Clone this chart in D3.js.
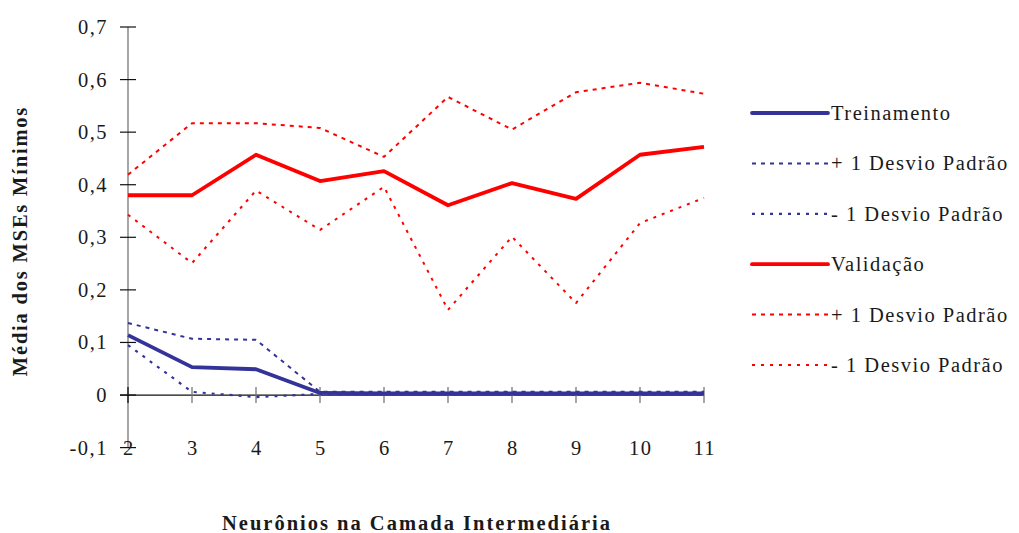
<!DOCTYPE html>
<html>
<head>
<meta charset="utf-8">
<script src="https://cdn.jsdelivr.net/npm/d3@7"></script>
<style>
  html, body { margin: 0; padding: 0; background: #fff; }
  svg { display: block; }
  text { font-family: "Liberation Serif", "DejaVu Serif", serif; fill: #1a1a1a; }
</style>
</head>
<body>
<svg id="chart" width="1019" height="533"></svg>
<script>
// Number of hidden-layer neurons
const neuronios = [2, 3, 4, 5, 6, 7, 8, 9, 10, 11];

// Mean of minimum MSEs per configuration
const treinamento      = [0.114, 0.053, 0.049, 0.004, 0.003, 0.003, 0.003, 0.003, 0.003, 0.003];
const treinamentoMais  = [0.137, 0.107, 0.105, 0.006, 0.006, 0.006, 0.006, 0.006, 0.006, 0.006];
const treinamentoMenos = [0.095, 0.006, -0.004, 0.002, 0.001, 0.001, 0.001, 0.001, 0.001, 0.001];
const validacao        = [0.380, 0.380, 0.457, 0.407, 0.426, 0.361, 0.403, 0.373, 0.457, 0.472];
const validacaoMais    = [0.419, 0.517, 0.517, 0.508, 0.453, 0.567, 0.505, 0.576, 0.594, 0.573];
const validacaoMenos   = [0.343, 0.251, 0.389, 0.314, 0.396, 0.162, 0.301, 0.175, 0.327, 0.375];

const yTicks = [-0.1, 0, 0.1, 0.2, 0.3, 0.4, 0.5, 0.6, 0.7];
const yTickLabels = ["-0,1", "0", "0,1", "0,2", "0,3", "0,4", "0,5", "0,6", "0,7"];
const legendLabels = ["Treinamento", "+ 1 Desvio Padrão", "- 1 Desvio Padrão",
                      "Validação", "+ 1 Desvio Padrão", "- 1 Desvio Padrão"];

const azul = "#333399", vermelho = "#ff0000";
const series = [
  { values: treinamento,      color: azul,     width: 3.8, dash: null },
  { values: treinamentoMais,  color: azul,     width: 2,   dash: "4,5" },
  { values: treinamentoMenos, color: azul,     width: 2.2, dash: "3,6" },
  { values: validacao,        color: vermelho, width: 3.8, dash: null },
  { values: validacaoMais,    color: vermelho, width: 2,   dash: "4,5" },
  { values: validacaoMenos,   color: vermelho, width: 2,   dash: "3,6" }
];

const fontSize = 20.5, spacing = 1.5;
const svg = d3.select("#chart");

const x = d3.scaleLinear().domain([2, 11]).range([128, 704]);
const y = d3.scaleLinear().domain([-0.1, 0.7]).range([447.6, 27]);

// Vertical axis with crossing ticks
const yAxis = svg.append("g");
yAxis.append("line")
  .attr("x1", x(2)).attr("x2", x(2))
  .attr("y1", y(0.7)).attr("y2", y(-0.1))
  .attr("stroke", "#777").attr("stroke-width", 1.3);
yAxis.selectAll("line.tk").data(yTicks).enter().append("line")
  .attr("class", "tk")
  .attr("x1", x(2) - 8).attr("x2", x(2) + 8)
  .attr("y1", d => y(d)).attr("y2", d => y(d))
  .attr("stroke", "#111").attr("stroke-width", 1.2);
yAxis.selectAll("text").data(yTicks).enter().append("text")
  .attr("x", 108).attr("y", d => y(d) + 7)
  .attr("text-anchor", "end")
  .attr("font-size", fontSize).attr("letter-spacing", spacing)
  .text((d, i) => yTickLabels[i]);

// Horizontal axis at zero with crossing ticks
const xAxis = svg.append("g");
xAxis.append("line")
  .attr("x1", x(2) - 8).attr("x2", x(11))
  .attr("y1", y(0)).attr("y2", y(0))
  .attr("stroke", "#111").attr("stroke-width", 1.2);
xAxis.selectAll("line.tk").data(neuronios).enter().append("line")
  .attr("class", "tk")
  .attr("x1", d => x(d)).attr("x2", d => x(d))
  .attr("y1", y(0) - 8).attr("y2", y(0) + 8)
  .attr("stroke", d => d === 2 ? "#111" : "#777").attr("stroke-width", 1.3);
xAxis.selectAll("text").data(neuronios).enter().append("text")
  .attr("x", d => x(d) + spacing / 2).attr("y", 455)
  .attr("text-anchor", "middle")
  .attr("font-size", fontSize).attr("letter-spacing", spacing)
  .text(d => d);

// Series lines
const line = d3.line()
  .x((d, i) => x(neuronios[i]))
  .y(d => y(d));
svg.append("g").selectAll("path").data(series).enter().append("path")
  .attr("d", d => line(d.values))
  .attr("fill", "none")
  .attr("stroke", d => d.color)
  .attr("stroke-width", d => d.width)
  .attr("stroke-linejoin", "round")
  .attr("stroke-dasharray", d => d.dash);

// Legend
const legend = svg.append("g");
const rows = legend.selectAll("g").data(series).enter().append("g")
  .attr("transform", (d, i) => `translate(752, ${113 + i * 50.4})`);
rows.append("line")
  .attr("x1", 0).attr("x2", 76).attr("y1", 0).attr("y2", 0)
  .attr("stroke", d => d.color)
  .attr("stroke-width", d => d.width)
  .attr("stroke-linecap", d => d.dash ? "butt" : "round")
  .attr("stroke-dasharray", d => d.dash);
rows.append("text")
  .attr("x", 79).attr("y", 7)
  .attr("font-size", fontSize).attr("letter-spacing", spacing)
  .text((d, i) => legendLabels[i]);

// Axis titles
svg.append("text")
  .attr("x", 417).attr("y", 530)
  .attr("text-anchor", "middle")
  .attr("font-size", fontSize).attr("font-weight", "bold")
  .attr("letter-spacing", 2)
  .text("Neurônios na Camada Intermediária");
svg.append("text")
  .attr("transform", "translate(27, 241) rotate(-90)")
  .attr("text-anchor", "middle")
  .attr("font-size", fontSize).attr("font-weight", "bold")
  .attr("letter-spacing", 1.8)
  .text("Média dos MSEs Mínimos");
</script>
</body>
</html>
